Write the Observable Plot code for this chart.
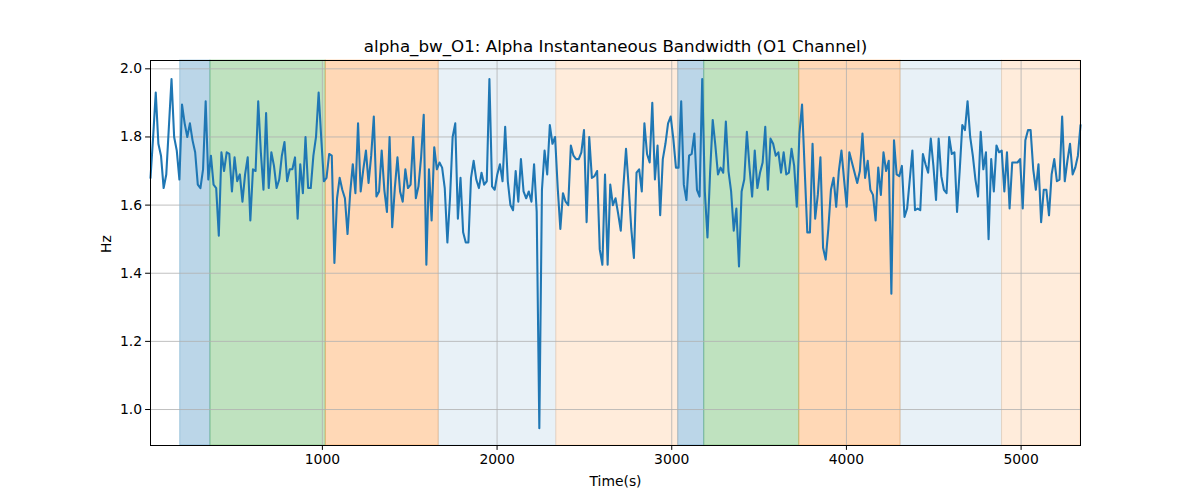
<!DOCTYPE html>
<html>
<head>
<meta charset="utf-8">
<script src="https://cdn.jsdelivr.net/npm/d3@7"></script>
<script src="https://cdn.jsdelivr.net/npm/@observablehq/plot@0.6"></script>
<style>
  html, body { margin: 0; padding: 0; background: #fff; }
  svg { font-family: "DejaVu Sans", sans-serif; }
</style>
</head>
<body>
<div id="chart"></div>
<script>
const title = "alpha_bw_O1: Alpha Instantaneous Bandwidth (O1 Channel)";
const xLabel = "Time(s)";
const yLabel = "Hz";
const xTicks = [1000, 2000, 3000, 4000, 5000];
const yTicks = [1.0, 1.2, 1.4, 1.6, 1.8, 2.0];

// sampling grid of the series (seconds)
const timeStart = 16;
const timeStep = 15.04;

// alpha bandwidth values (Hz)
const bandwidth = [
  1.68, 1.80, 1.93, 1.78, 1.745, 1.65, 1.69, 1.83, 1.97, 1.80, 1.76, 1.675, 1.895, 1.84, 1.80, 1.84, 1.79, 1.755, 1.66, 1.65,
  1.705, 1.905, 1.675, 1.745, 1.66, 1.65, 1.51, 1.755, 1.70, 1.755, 1.75, 1.64, 1.74, 1.67, 1.69, 1.61, 1.69, 1.74, 1.555, 1.705,
  1.70, 1.905, 1.755, 1.645, 1.87, 1.65, 1.755, 1.715, 1.65, 1.675, 1.745, 1.785, 1.67, 1.705, 1.705, 1.74, 1.56, 1.72, 1.635, 1.80,
  1.65, 1.65, 1.745, 1.80, 1.93, 1.795, 1.67, 1.68, 1.75, 1.745,
  1.43, 1.62, 1.68, 1.645, 1.62, 1.515, 1.635, 1.72, 1.635, 1.84,
  1.64, 1.705, 1.76, 1.665, 1.745, 1.86, 1.625, 1.64, 1.76, 1.645,
  1.58, 1.80, 1.535, 1.65, 1.74, 1.64, 1.61, 1.705, 1.65, 1.66,
  1.80, 1.62, 1.655, 1.74, 1.865, 1.425, 1.705, 1.555, 1.77, 1.705,
  1.725, 1.71, 1.65, 1.49, 1.62, 1.80, 1.84, 1.56, 1.68,
  1.52, 1.49, 1.49, 1.68, 1.73, 1.675, 1.65, 1.695, 1.66, 1.67,
  1.97, 1.655, 1.645, 1.69, 1.72, 1.67, 1.83, 1.67, 1.60, 1.585,
  1.70, 1.61, 1.735, 1.64, 1.62, 1.64, 1.61, 1.72, 1.58, 0.945,
  1.645, 1.76, 1.69, 1.835, 1.78, 1.80, 1.65, 1.53, 1.635, 1.61,
  1.60, 1.775, 1.745, 1.735, 1.735, 1.755, 1.82, 1.55, 1.80, 1.68,
  1.685, 1.70, 1.47, 1.425, 1.69, 1.425, 1.66, 1.60, 1.62, 1.575,
  1.525,
  1.655, 1.765, 1.655, 1.53, 1.445, 1.695, 1.705, 1.64, 1.84, 1.75,
  1.725, 1.90, 1.675, 1.775, 1.57, 1.735, 1.78, 1.84, 1.86, 1.795,
  1.71, 1.71, 1.905, 1.66, 1.615, 1.745, 1.75, 1.81, 1.645, 1.625,
  1.97, 1.64, 1.505, 1.695, 1.85, 1.775, 1.69, 1.71, 1.695, 1.845,
  1.70, 1.64, 1.525, 1.59, 1.42, 1.64, 1.675, 1.815, 1.71, 1.625,
  1.76, 1.65, 1.695, 1.725, 1.83, 1.645, 1.795, 1.78, 1.745,
  1.755, 1.695, 1.755, 1.69, 1.695, 1.765, 1.715, 1.595, 1.81, 1.895,
  1.705, 1.52, 1.52, 1.78, 1.56, 1.63, 1.74, 1.475, 1.44, 1.53,
  1.645, 1.68, 1.595, 1.70, 1.76, 1.675, 1.595, 1.755, 1.725, 1.695,
  1.665, 1.70, 1.81, 1.68, 1.73, 1.645, 1.63, 1.555, 1.71, 1.63,
  1.755, 1.70, 1.73, 1.34, 1.79, 1.69, 1.685, 1.715, 1.565, 1.59,
  1.675, 1.76, 1.585, 1.59, 1.585, 1.75,
  1.72, 1.695, 1.795, 1.715, 1.615, 1.795, 1.685, 1.645, 1.635, 1.80,
  1.75, 1.755, 1.58, 1.70, 1.835, 1.82, 1.905, 1.80, 1.745, 1.675,
  1.625, 1.815, 1.705, 1.755, 1.50, 1.735, 1.64, 1.775, 1.755, 1.76,
  1.64, 1.755, 1.59, 1.725, 1.725, 1.725, 1.735, 1.59, 1.79, 1.82,
  1.82, 1.705, 1.645, 1.72, 1.55, 1.645, 1.645, 1.57, 1.69, 1.735,
  1.67, 1.675, 1.86, 1.67, 1.73, 1.78, 1.69, 1.71, 1.745, 1.835
];

// shaded segments
const regionStart = [186, 359, 1019, 1666, 2339, 3037, 3186, 3730, 4310, 4891];
const regionEnd   = [359, 1019, 1666, 2339, 3037, 3186, 3730, 4310, 4891, 5340];
const regionKind  = ["blue", "green", "orange", "paleBlue", "paleOrange", "blue", "green", "orange", "paleBlue", "paleOrange"];

const kindColor = {blue: "#1f77b4", green: "#2ca02c", orange: "#ff7f0e", paleBlue: "#1f77b4", paleOrange: "#ff7f0e"};
const kindAlpha = {blue: 0.3, green: 0.3, orange: 0.3, paleBlue: 0.1, paleOrange: 0.15};

const series = bandwidth.map((v, i) => ({t: timeStart + i * timeStep, v}));
const regions = regionStart.map((s, i) => ({x1: s, x2: regionEnd[i], kind: regionKind[i]}));

const fontTick = 13.9;
const chart = Plot.plot({
  width: 1200,
  height: 500,
  marginLeft: 150,
  marginRight: 120,
  marginTop: 60,
  marginBottom: 55,
  style: {fontFamily: "DejaVu Sans, sans-serif", background: "#fff"},
  x: {domain: [16, 5340]},
  y: {domain: [0.8944, 2.0244]},
  marks: [
    Plot.rect(regions, {
      x1: "x1", x2: "x2",
      fill: d => kindColor[d.kind], fillOpacity: d => kindAlpha[d.kind],
      stroke: d => kindColor[d.kind], strokeOpacity: d => kindAlpha[d.kind], strokeWidth: 1
    }),
    Plot.gridX(xTicks, {stroke: "#b0b0b0", strokeOpacity: 1, strokeWidth: 0.8}),
    Plot.gridY(yTicks, {stroke: "#b0b0b0", strokeOpacity: 1, strokeWidth: 0.8}),
    Plot.line(series, {x: "t", y: "v", stroke: "#1f77b4", strokeWidth: 2.08}),
    Plot.frame({stroke: "black", strokeWidth: 1}),
    Plot.axisX(xTicks, {tickSize: 4.9, tickPadding: 3.5, fontSize: fontTick, fill: "black", stroke: "black", tickFormat: d => String(d), label: null}),
    Plot.axisY(yTicks, {tickSize: 4.9, tickPadding: 3.5, fontSize: fontTick, fill: "black", stroke: "black", tickFormat: d => d.toFixed(1), label: null}),
    Plot.text([title], {frameAnchor: "top", lineAnchor: "middle", dy: -14, fontSize: 16.7, fill: "black", textAnchor: "middle"}),
    Plot.text([xLabel], {frameAnchor: "bottom", lineAnchor: "middle", dy: 36, fontSize: fontTick, fill: "black"}),
    Plot.text([yLabel], {frameAnchor: "left", dx: -44, rotate: -90, fontSize: fontTick, fill: "black"})
  ]
});
document.getElementById("chart").appendChild(chart);
</script>
</body>
</html>
